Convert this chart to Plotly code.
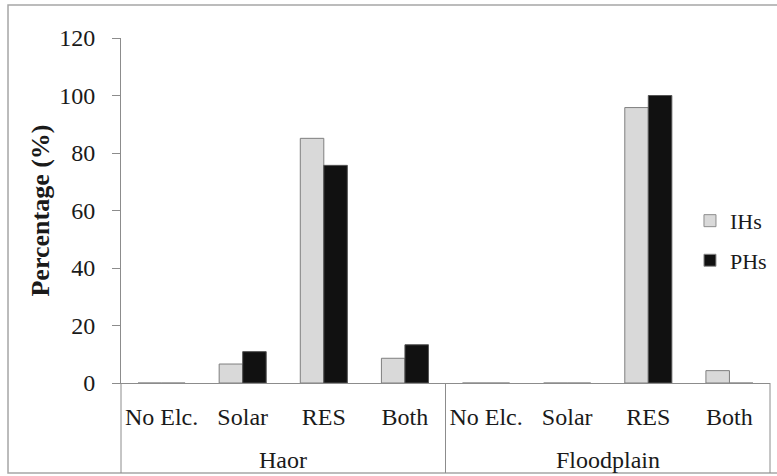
import plotly.graph_objects as go

regions = ["Haor", "Floodplain"]
sources = ["No Elc.", "Solar", "RES", "Both"]
ihs = [0, 6.6, 85.1, 8.6, 0, 0, 95.8, 4.3]
phs = [0, 10.9, 75.7, 13.3, 0, 0, 100, 0]
y_ticks = [0, 20, 40, 60, 80, 100, 120]

categories = [f"{r}|{s}" for r in regions for s in sources]
tick_text = [s for r in regions for s in sources]

FONT = "Liberation Serif"
TXT = "#1a1a1a"
LINE = "#8c8c8c"

fig = go.Figure()
fig.add_trace(go.Bar(x=categories, y=ihs, name="IHs", legendgroup="a",
                     marker=dict(color="#d9d9d9",
                                 line=dict(color=["#7f7f7f" if v > 0 else LINE for v in ihs], width=1))))
fig.add_trace(go.Bar(x=categories, y=phs, name="PHs", legendgroup="b",
                     marker=dict(color="#111111",
                                 line=dict(color=["#555555" if v > 0 else LINE for v in phs], width=1))))

shapes = [dict(type="rect", xref="paper", yref="paper",
               x0=-0.1741, x1=1.03, y0=-0.2609, y1=1.0957,
               line=dict(color="#a6a6a6", width=1.5), layer="below")]
for xv in [0, 0.5, 1]:
    shapes.append(dict(type="line", xref="paper", yref="paper",
                       x0=xv, x1=xv, y0=0, y1=-0.2609,
                       line=dict(color=LINE, width=1)))

annotations = [dict(text=r, xref="paper", yref="paper", x=0.25 + 0.5 * i, y=-0.2232,
                    xanchor="center", yanchor="middle", showarrow=False,
                    font=dict(family=FONT, size=24, color=TXT))
               for i, r in enumerate(regions)]

fig.update_layout(
    width=777, height=476,
    margin=dict(l=121, r=7, t=38, b=93, autoexpand=False),
    paper_bgcolor="white", plot_bgcolor="white",
    bargap=0.42, bargroupgap=0,
    font=dict(family=FONT, size=24, color=TXT),
    showlegend=True,
    legend=dict(x=0.8767, y=0.412, xanchor="left", yanchor="middle",
                font=dict(family=FONT, size=22, color=TXT),
                traceorder="grouped", tracegroupgap=8,
                bgcolor="rgba(0,0,0,0)"),
    shapes=shapes,
    annotations=annotations,
)
fig.update_xaxes(showline=True, linecolor=LINE, linewidth=1,
                 tickvals=categories, ticktext=tick_text,
                 ticks="outside", ticklen=12, tickcolor="rgba(0,0,0,0)",
                 showgrid=False, tickfont=dict(family=FONT, size=24, color=TXT))
fig.update_yaxes(range=[0, 120], tickvals=y_ticks, showline=True,
                 linecolor=LINE, linewidth=1, ticks="outside",
                 ticklen=8, tickcolor=LINE, showgrid=False, zeroline=False,
                 ticklabelstandoff=12,
                 tickfont=dict(family=FONT, size=24, color=TXT),
                 title=dict(text="<b>Percentage (%)</b>", standoff=2,
                            font=dict(family=FONT, size=26, color=TXT)))

fig.write_html("out.html", config={"displayModeBar": False},
               post_script="document.body.style.margin='0px';")
